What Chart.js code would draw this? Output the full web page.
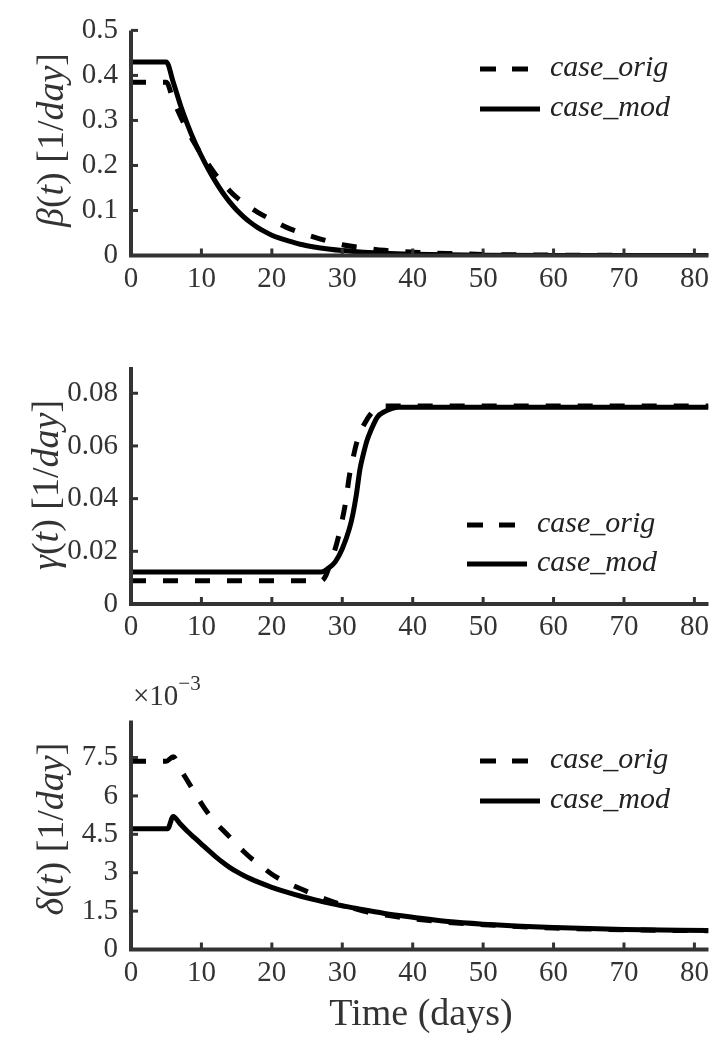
<!DOCTYPE html>
<html>
<head>
<meta charset="utf-8">
<script src="https://cdn.jsdelivr.net/npm/chart.js@4.4.1/dist/chart.umd.min.js"></script>
<style>
  body { margin: 0; width: 715px; height: 1040px; background: #fff; position: relative; overflow: hidden;
         font-family: "Liberation Serif", "DejaVu Serif", serif; color: #333; }
  .panel { position: absolute; left: 0; width: 715px; }
  .ylab { position: absolute; font-size: 38px; white-space: nowrap; line-height: 38px;
          transform: translate(-50%, -50%) rotate(-90deg); }
  .legtxt { position: absolute; font-size: 30px; line-height: 30px; font-style: italic; color: #222; white-space: nowrap; }
  .legline { position: absolute; }
  .xlab { position: absolute; font-size: 38px; line-height: 38px; white-space: nowrap; transform: translateX(-50%); }
  .expo { position: absolute; font-size: 29px; line-height: 29px; white-space: nowrap; }
  .expo sup { font-size: 21px; position: relative; top: -4px; }
</style>
</head>
<body>

<div class="panel" style="top:0;height:300px"><canvas id="beta"></canvas></div>
<div class="panel" style="top:330px;height:310px"><canvas id="gamma"></canvas></div>
<div class="panel" style="top:690px;height:310px"><canvas id="delta"></canvas></div>

<div class="ylab" style="left:50px;top:140px"><i>β</i>(<i>t</i>) [1/<i>day</i>]</div>
<div class="ylab" style="left:45px;top:485px"><i>γ</i>(<i>t</i>) [1/<i>day</i>]</div>
<div class="ylab" style="left:50px;top:829px"><i>δ</i>(<i>t</i>) [1/<i>day</i>]</div>

<div class="expo" style="left:133px;top:673px">×10<sup>−3</sup></div>
<div class="xlab" style="left:421px;top:993px">Time (days)</div>

<div id="legends"></div>

<script>
// time axis
const xTicks = [0, 10, 20, 30, 40, 50, 60, 70, 80];

// beta(t) [1/day]
const tBetaOrig = [0, 5, 6, 7, 8, 9, 10, 11, 12, 13, 14, 15, 16, 17, 18, 20, 22, 24, 26, 28, 30, 33, 36, 40, 45, 50, 60, 70, 82];
const betaOrig = [0.385, 0.385, 0.345, 0.31, 0.278, 0.25, 0.224, 0.202, 0.18, 0.162, 0.144, 0.129, 0.117, 0.106, 0.096,
                  0.079, 0.063, 0.051, 0.041, 0.032, 0.024, 0.017, 0.0115, 0.0075, 0.0045, 0.0025, 0.0008, 0.0003, 0.0001];
const tBetaMod = [0, 5, 6, 7, 8, 9, 10, 11, 12, 13, 14, 15, 16, 17, 18, 19, 20, 21, 22, 24, 26, 28, 30, 33, 36, 40, 45, 50, 60, 70, 82];
const betaMod = [0.43, 0.43, 0.385, 0.335, 0.292, 0.254, 0.221, 0.191, 0.164, 0.14, 0.119, 0.101, 0.086, 0.073, 0.062, 0.053,
                 0.045, 0.039, 0.034, 0.025, 0.019, 0.0145, 0.011, 0.0075, 0.005, 0.003, 0.0015, 0.0008, 0.0002, 0.0001, 0];
const betaTicks = [0, 0.1, 0.2, 0.3, 0.4, 0.5];

// gamma(t) [1/day]
const tGammaOrig = [0, 27, 27.7, 28.3, 29, 29.5, 30, 30.5, 31, 31.5, 32, 32.7, 33.4, 34, 35, 36, 40, 82];
const gammaOrig = [0.0088, 0.0088, 0.011, 0.0155, 0.021, 0.026, 0.032, 0.039, 0.0485, 0.055, 0.0608, 0.066, 0.0696,
                   0.072, 0.0745, 0.0752, 0.0752, 0.0752];
const tGammaMod = [0, 27, 28, 29, 30, 31, 31.5, 32, 32.5, 33, 33.5, 34, 35, 36, 37, 38, 40, 82];
const gammaMod = [0.0121, 0.0121, 0.0135, 0.016, 0.021, 0.0285, 0.034, 0.0415, 0.051, 0.057, 0.062, 0.0655, 0.071,
                  0.073, 0.0742, 0.0747, 0.0747, 0.0747];
const gammaTicks = [0, 0.02, 0.04, 0.06, 0.08];

// delta(t) [1/day], in units of 1e-3
const tDeltaOrig = [0, 5, 6, 7, 8, 9, 10, 11, 12, 13, 14, 15, 16, 17, 18, 20, 22, 24, 26, 28, 30, 33, 36, 40, 45, 50, 60, 70, 82];
const deltaOrig = [7.35, 7.35, 7.53, 7.05, 6.6, 6.15, 5.7, 5.3, 4.95, 4.68, 4.4, 4.1, 3.83, 3.58, 3.37, 2.94, 2.63, 2.38,
                   2.15, 1.93, 1.75, 1.5, 1.35, 1.2, 1.06, 0.97, 0.84, 0.77, 0.73];
const tDeltaMod = [0, 5.2, 6, 7, 8, 9, 10, 11, 12, 13, 14, 15, 16, 17, 18, 20, 22, 24, 26, 28, 30, 33, 36, 40, 45, 50, 60, 70, 82];
const deltaMod = [4.72, 4.72, 5.2, 4.9, 4.62, 4.37, 4.12, 3.87, 3.63, 3.41, 3.21, 3.04, 2.89, 2.76, 2.64, 2.43, 2.25, 2.09,
                  1.95, 1.82, 1.71, 1.55, 1.41, 1.26, 1.09, 0.99, 0.86, 0.78, 0.74];
const deltaTicks = [0, 1.5, 3, 4.5, 6, 7.5];

const seriesNames = ['case_orig', 'case_mod'];
const INK = '#000';
const AXIS = '#333';

function pts(xs, ys) {
    return xs.map((x, i) => ({ x: x, y: ys[i] }));
}

// MATLAB style axes: left and bottom lines with ticks pointing inwards
const inwardAxes = {
    id: 'inwardAxes',
    afterDraw(chart) {
        const ctx = chart.ctx;
        const xs = chart.scales.x, ys = chart.scales.y;
        const x0 = xs.getPixelForValue(0), y0 = ys.getPixelForValue(0);
        ctx.save();
        ctx.strokeStyle = AXIS;
        ctx.lineWidth = 3;
        xs.ticks.forEach(t => {
            const px = xs.getPixelForValue(t.value);
            ctx.beginPath(); ctx.moveTo(px, y0); ctx.lineTo(px, y0 - 7); ctx.stroke();
        });
        ys.ticks.forEach(t => {
            const py = ys.getPixelForValue(t.value);
            ctx.beginPath(); ctx.moveTo(x0, py); ctx.lineTo(x0 + 7, py); ctx.stroke();
        });
        ctx.lineWidth = 4;
        ctx.beginPath();
        ctx.moveTo(x0, chart.chartArea.top);
        ctx.lineTo(x0, y0);
        ctx.lineTo(chart.chartArea.right, y0);
        ctx.stroke();
        ctx.restore();
    }
};

function makePanel(id, height, area, orig, mod, yMax, yTicks) {
    new Chart(document.getElementById(id), {
        type: 'line',
        data: {
            datasets: [
                { label: seriesNames[0], data: orig, borderColor: INK, borderWidth: 5, borderDash: [15, 17],
                  pointRadius: 0, cubicInterpolationMode: 'monotone', fill: false },
                { label: seriesNames[1], data: mod, borderColor: INK, borderWidth: 5,
                  pointRadius: 0, cubicInterpolationMode: 'monotone', fill: false }
            ]
        },
        options: {
            responsive: true,
            maintainAspectRatio: false,
            animation: false,
            layout: { padding: { left: 0, right: 4, top: area.top, bottom: 0 } },
            plugins: { legend: { display: false }, tooltip: { enabled: false } },
            scales: {
                x: {
                    type: 'linear', min: 0, max: 82,
                    afterFit: s => { s.height = height - area.bottom; },
                    afterBuildTicks: s => { s.ticks = xTicks.map(v => ({ value: v })); },
                    grid: { display: false, drawTicks: false },
                    border: { display: false },
                    ticks: { padding: 6, color: AXIS, maxRotation: 0,
                             font: { family: '"Liberation Serif", serif', size: 29 },
                             callback: v => String(v) }
                },
                y: {
                    type: 'linear', min: 0, max: yMax,
                    afterFit: s => { s.width = 131; },
                    afterBuildTicks: s => { s.ticks = yTicks.map(v => ({ value: v })); },
                    grid: { display: false, drawTicks: false },
                    border: { display: false },
                    ticks: { padding: 13, color: AXIS,
                             font: { family: '"Liberation Serif", serif', size: 29 },
                             callback: v => String(+v.toFixed(3)) }
                }
            }
        },
        plugins: [inwardAxes]
    });
}

makePanel('beta', 300, { top: 20, bottom: 255.5 },
          pts(tBetaOrig, betaOrig), pts(tBetaMod, betaMod), 0.5, betaTicks);
makePanel('gamma', 310, { top: 36.9, bottom: 274 },
          pts(tGammaOrig, gammaOrig), pts(tGammaMod, gammaMod), 0.09, gammaTicks);
makePanel('delta', 310, { top: 22.3, bottom: 259.5 },
          pts(tDeltaOrig, deltaOrig), pts(tDeltaMod, deltaMod), 8.95, deltaTicks);

// legends: [sample left, dashed y, solid y, text left]
const legendSpots = [[480, 69, 109, 550], [467, 525, 564, 537], [480, 761, 801, 550]];
const holder = document.getElementById('legends');
legendSpots.forEach(([lx, yOrig, yMod, tx]) => {
    const rows = [[yOrig, true, seriesNames[0]], [yMod, false, seriesNames[1]]];
    rows.forEach(([y, dashed, name]) => {
        const w = dashed ? 48 : 60;
        const svg = document.createElementNS('http://www.w3.org/2000/svg', 'svg');
        svg.setAttribute('width', w);
        svg.setAttribute('height', 10);
        svg.setAttribute('class', 'legline');
        svg.style.left = lx + 'px';
        svg.style.top = (y - 5) + 'px';
        svg.innerHTML = '<line x1="0" y1="5" x2="' + w + '" y2="5" stroke="#000" stroke-width="5"' +
            (dashed ? ' stroke-dasharray="16 16"' : '') + '/>';
        holder.appendChild(svg);
        const t = document.createElement('div');
        t.className = 'legtxt';
        t.style.left = tx + 'px';
        t.style.top = (y - 18) + 'px';
        t.textContent = name;
        holder.appendChild(t);
    });
});
</script>
</body>
</html>
